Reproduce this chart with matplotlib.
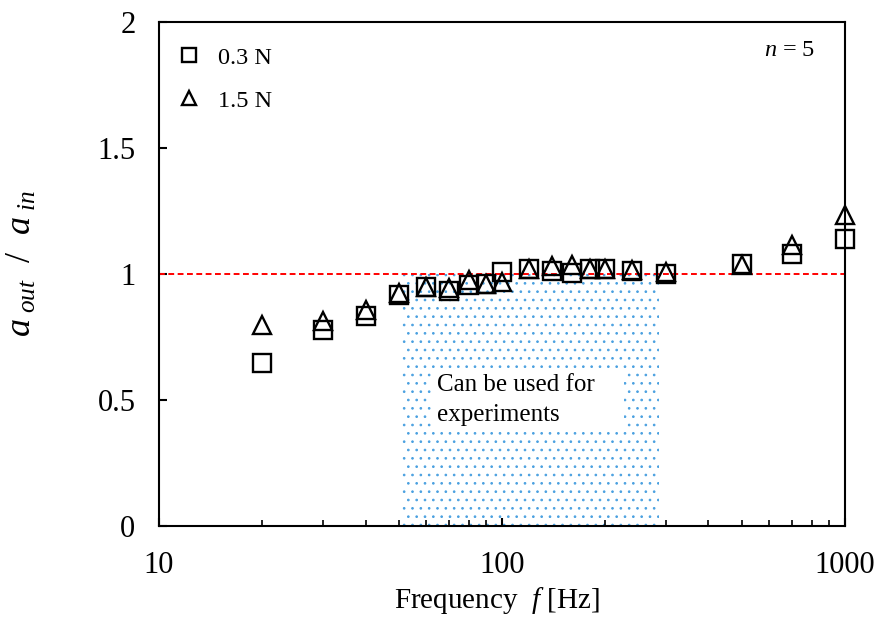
import numpy as np
import matplotlib
matplotlib.use('Agg')
import matplotlib.pyplot as plt

# Data
freq = [20, 30, 40, 50, 60, 70, 80, 90, 100, 120, 140, 160, 180, 200, 240, 300, 500, 700, 1000]
ratio_03N = [0.646, 0.777, 0.834, 0.918, 0.949, 0.934, 0.955, 0.962, 1.009, 1.020, 1.010,
             1.005, 1.020, 1.019, 1.013, 1.000, 1.041, 1.080, 1.140]
ratio_15N = [0.798, 0.812, 0.858, 0.925, 0.950, 0.945, 0.975, 0.960, 0.969, 1.020, 1.033,
             1.036, 1.020, 1.020, 1.015, 1.009, 1.037, 1.115, 1.233]
usable_range = [51, 287]
ref_level = 1.0

plt.rcParams['font.family'] = ['Liberation Serif', 'DejaVu Serif']
plt.rcParams['mathtext.fontset'] = 'custom'
plt.rcParams['mathtext.rm'] = 'Liberation Serif'
plt.rcParams['mathtext.it'] = 'Liberation Serif:italic'
plt.rcParams['hatch.linewidth'] = 0.7

fig = plt.figure(figsize=(8.82, 6.25), dpi=100)
ax = fig.add_axes([0.1803, 0.1584, 0.7777, 0.8064])

# Region usable for experiments
ax.fill_between(usable_range, 0, ref_level, facecolor='none', edgecolor='#4aa0e0',
                linewidth=0, hatch='..', zorder=1)
ax.text(64.5, 0.605, 'Can be used for    \nexperiments', fontsize=18, va='top', ha='left',
        linespacing=1.5, zorder=3,
        bbox=dict(boxstyle='square,pad=0.2', facecolor='white', edgecolor='none'))

# Reference line
ax.axhline(ref_level, color='red', linestyle=(0, (3, 1.8)), linewidth=1.4, zorder=2)

ax.plot(freq, ratio_03N, linestyle='none', marker='s', markersize=13.5,
        markerfacecolor='none', markeredgecolor='black', markeredgewidth=1.7,
        label='0.3 N', zorder=4, clip_on=False)
ax.plot(freq, ratio_15N, linestyle='none', marker='^', markersize=13.5,
        markerfacecolor='none', markeredgecolor='black', markeredgewidth=1.7,
        label='1.5 N', zorder=5, clip_on=False)

ax.set_xscale('log')
ax.set_xlim(10, 1000)
ax.set_ylim(0, 2)
ax.set_yticks([0, 0.5, 1, 1.5, 2])
ax.set_yticklabels(['0', '0.5', '1', '1.5', '2'])
ax.set_xticks([10, 100, 1000])
ax.set_xticklabels(['10', '100', '1000'])

for s in ax.spines.values():
    s.set_linewidth(1.5)
ax.tick_params(axis='both', which='major', direction='in', length=6, width=1.5,
               labelsize=22)
ax.tick_params(axis='x', which='major', pad=18)
ax.tick_params(axis='y', which='major', pad=17)
ax.tick_params(axis='x', which='minor', direction='in', length=4, width=1.2)
ax.tick_params(top=False, right=False, which='both')

ax.set_xlabel('Frequency  $f$ [Hz]', fontsize=21)
ax.xaxis.set_label_coords(0.493, -0.118)
ax.set_ylabel(r'$a_{\ out}\ \ /\ \ a_{\ in}$', fontsize=26)
ax.yaxis.set_label_coords(-0.175, 0.52)

ax.text(0.957, 0.944, '$n$ = 5', transform=ax.transAxes, fontsize=17.5, ha='right', va='center')

ax.legend(loc='upper left', frameon=False, fontsize=17.5, markerscale=0.75,
          handletextpad=0.6, labelspacing=0.85, borderaxespad=0.0,
          bbox_to_anchor=(0.008, 0.97), handlelength=1.2)

fig.savefig('out.png', dpi=100)
